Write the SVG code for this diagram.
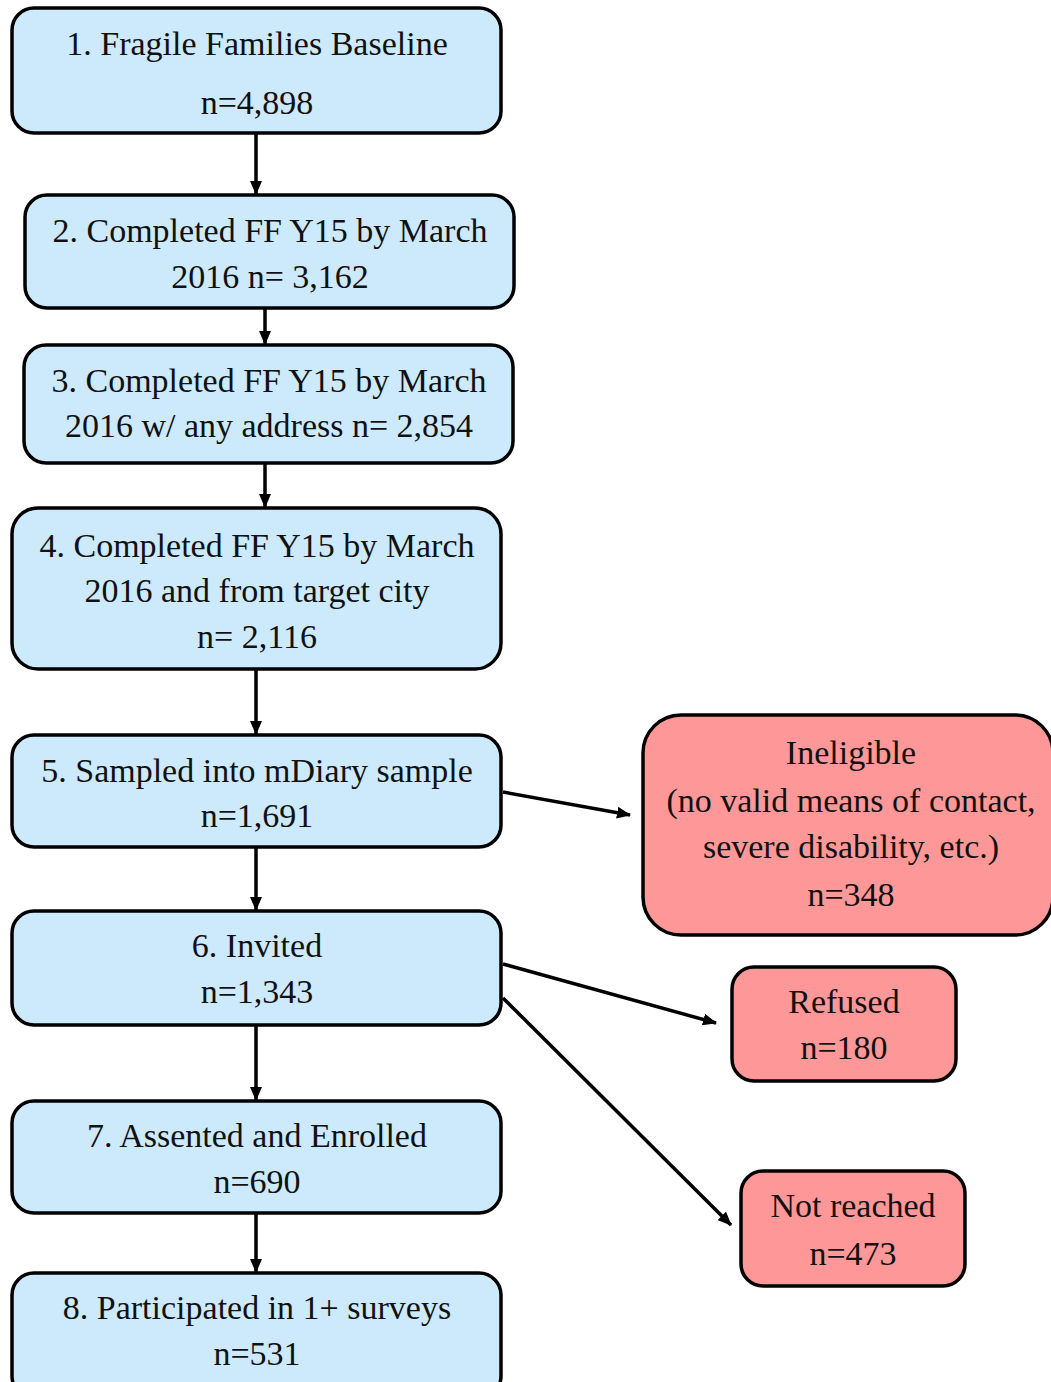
<svg xmlns="http://www.w3.org/2000/svg" width="1051" height="1382" viewBox="0 0 1051 1382">
<style>
.b{fill:#cdeafd;stroke:#000;stroke-width:3.5}
.r{fill:#fe9898;stroke:#000;stroke-width:3.5}
text{font-family:"Liberation Serif","Times New Roman",serif;font-size:34px;fill:#111;text-anchor:middle}
.c{stroke:#000;stroke-width:3.5;fill:none;marker-end:url(#ah)}
</style>
<defs>
<marker id="ah" markerUnits="userSpaceOnUse" viewBox="0 0 14 12" refX="13" refY="6" markerWidth="14" markerHeight="12" orient="auto">
<path d="M0,0 L14,6 L0,12 Z" fill="#000"/>
</marker>
</defs>
<g id="connectors">
<line class="c" x1="256" y1="133" x2="256" y2="194"/>
<line class="c" x1="265" y1="308" x2="265" y2="344"/>
<line class="c" x1="265" y1="463" x2="265" y2="507"/>
<line class="c" x1="256" y1="669" x2="256" y2="734"/>
<line class="c" x1="503" y1="792" x2="630" y2="815"/>
<line class="c" x1="256" y1="847" x2="256" y2="910"/>
<line class="c" x1="503" y1="964" x2="716" y2="1023"/>
<line class="c" x1="503" y1="998" x2="731" y2="1225"/>
<line class="c" x1="256" y1="1025" x2="256" y2="1100"/>
<line class="c" x1="256" y1="1213" x2="256" y2="1272"/>
</g>
<g id="n1"><rect class="b" x="12" y="8" width="489" height="125" rx="22"/>
<text x="257" y="55">1. Fragile Families Baseline</text><text x="257" y="114">n=4,898</text></g>
<g id="n2"><rect class="b" x="25" y="195" width="489" height="113" rx="22"/>
<text x="270" y="242">2. Completed FF Y15 by March</text><text x="270" y="288">2016 n= 3,162</text></g>
<g id="n3"><rect class="b" x="24" y="345" width="489" height="118" rx="22"/>
<text x="269" y="392">3. Completed FF Y15 by March</text><text x="269" y="437">2016 w/ any address n= 2,854</text></g>
<g id="n4"><rect class="b" x="12" y="508" width="489" height="161" rx="26"/>
<text x="257" y="557">4. Completed FF Y15 by March</text><text x="257" y="602">2016 and from target city</text><text x="257" y="648">n= 2,116</text></g>
<g id="n5"><rect class="b" x="12" y="735" width="489" height="112" rx="22"/>
<text x="257" y="782">5. Sampled into mDiary sample</text><text x="257" y="827">n=1,691</text></g>
<g id="n6"><rect class="b" x="12" y="911" width="489" height="114" rx="22"/>
<text x="257" y="957">6. Invited</text><text x="257" y="1003">n=1,343</text></g>
<g id="n7"><rect class="b" x="12" y="1101" width="489" height="112" rx="22"/>
<text x="257" y="1147">7. Assented and Enrolled</text><text x="257" y="1193">n=690</text></g>
<g id="n8"><rect class="b" x="12" y="1273" width="489" height="125" rx="22"/>
<text x="257" y="1319">8. Participated in 1+ surveys</text><text x="257" y="1365">n=531</text></g>
<g id="ineligible"><rect class="r" x="643" y="715" width="410" height="220" rx="38"/>
<text x="851" y="764">Ineligible</text><text x="851" y="812">(no valid means of contact,</text><text x="851" y="858">severe disability, etc.)</text><text x="851" y="906">n=348</text></g>
<g id="refused"><rect class="r" x="732" y="967" width="224" height="114" rx="22"/>
<text x="844" y="1013">Refused</text><text x="844" y="1059">n=180</text></g>
<g id="notreached"><rect class="r" x="741" y="1171" width="224" height="115" rx="22"/>
<text x="853" y="1217">Not reached</text><text x="853" y="1265">n=473</text></g>
</svg>
